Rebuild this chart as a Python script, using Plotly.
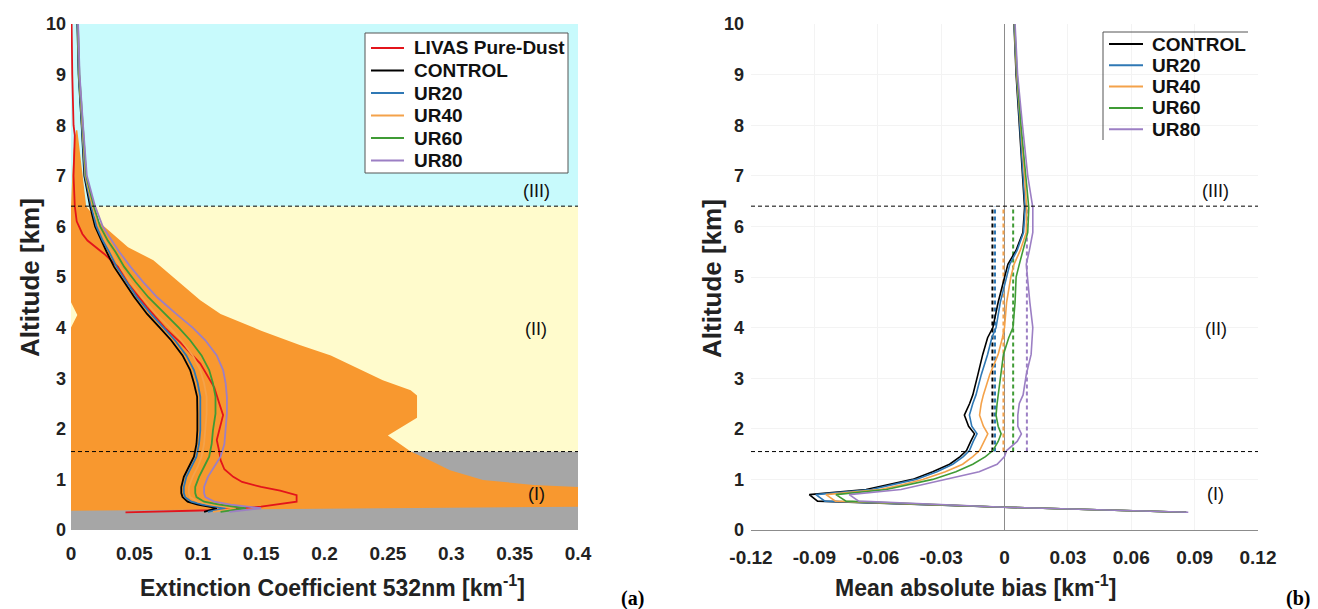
import plotly.graph_objects as go

# ---------------- data ----------------
series_names = ["CONTROL", "UR20", "UR40", "UR60", "UR80"]
series_colors = ["#000000", "#2f78b5", "#f4a24a", "#3f9b35", "#9c7fc4"]
livas_name = "LIVAS Pure-Dust"
livas_color = "#e3141b"

alt_ticks = [0, 1, 2, 3, 4, 5, 6, 7, 8, 9, 10]
ext_ticks = [0, 0.05, 0.1, 0.15, 0.2, 0.25, 0.3, 0.35, 0.4]
ext_ticklabels = ["0", "0.05", "0.1", "0.15", "0.2", "0.25", "0.3", "0.35", "0.4"]
bias_ticks = [-0.12, -0.09, -0.06, -0.03, 0, 0.03, 0.06, 0.09, 0.12]
bias_ticklabels = ["-0.12", "-0.09", "-0.06", "-0.03", "0", "0.03", "0.06", "0.09", "0.12"]

# region boundaries (km) and labels
region_bounds = [0.0, 1.55, 6.4, 10.0]
region_labels = ["(I)", "(II)", "(III)"]
region_label_alt = [0.72, 3.98, 6.7]
region_colors = ["#a6a6a6", "#fffbcc", "#c8fafc"]
envelope_color = "#f8982f"

# LIVAS pure-dust range envelope (upper/right edge, then lower/left edge)
env_up_alt = [0.46, 0.85, 0.89, 0.99, 1.18, 1.38, 1.55, 1.87, 2.22, 2.66, 2.76, 2.96, 3.45, 3.65,
              3.94, 4.27, 4.54, 4.93, 5.33, 5.59, 6.11, 6.40, 7.00, 7.50, 7.90]
env_up_x = [0.40, 0.40, 0.365, 0.325, 0.299, 0.283, 0.268, 0.250, 0.273, 0.273, 0.268, 0.246, 0.205, 0.181,
            0.150, 0.118, 0.102, 0.084, 0.065, 0.045, 0.021, 0.012, 0.009, 0.007, 0.005]
env_lo_alt = [7.90, 7.50, 7.00, 6.40, 4.50, 4.25, 4.00, 0.38]
env_lo_x = [0.004, 0.002, 0.001, 0.0, 0.0, 0.005, 0.0, 0.0]

# LIVAS pure-dust extinction profile
alt_livas = [0.35, 0.39, 0.46, 0.56, 0.69, 0.78, 0.85, 0.95, 1.05, 1.2, 1.38, 1.55, 1.78, 2.0, 2.27, 2.5,
             2.82, 3.29, 3.69, 4.0, 4.4, 4.87, 5.2, 5.46, 5.72, 5.85, 6.1, 6.4, 7.0, 7.8, 8.0, 9.0, 10.0]
ext_livas = [0.043, 0.110, 0.150, 0.178, 0.178, 0.165, 0.150, 0.135, 0.128, 0.121, 0.118, 0.117, 0.115,
             0.117, 0.120, 0.117, 0.113, 0.102, 0.087, 0.074, 0.060, 0.045, 0.037, 0.026, 0.013, 0.009,
             0.0045, 0.003, 0.002, 0.003, 0.002, 0.001, 0.0005]

# model extinction profiles
alt_model = [0.36, 0.43, 0.50, 0.56, 0.65, 0.73, 0.85, 1.05, 1.25, 1.45, 1.70, 1.97, 2.30, 2.63, 2.90,
             3.16, 3.45, 3.75, 4.00, 4.27, 4.60, 4.90, 5.20, 5.50, 5.72, 6.00, 6.40, 7.00, 8.00, 9.00, 10.0]
ext_control = [0.105, 0.115, 0.100, 0.092, 0.088, 0.087, 0.087, 0.089, 0.093, 0.097, 0.099, 0.0997, 0.0997,
               0.0995, 0.097, 0.094, 0.088, 0.079, 0.070, 0.060, 0.050, 0.042, 0.034, 0.028, 0.024, 0.019,
               0.015, 0.0105, 0.0084, 0.006, 0.005]
ext_ur20 = [0.108, 0.122, 0.104, 0.095, 0.090, 0.089, 0.089, 0.091, 0.095, 0.099, 0.101, 0.102, 0.102,
            0.102, 0.100, 0.097, 0.091, 0.082, 0.073, 0.063, 0.052, 0.044, 0.036, 0.030, 0.025, 0.020,
            0.016, 0.011, 0.0087, 0.0062, 0.0052]
ext_ur40 = [0.112, 0.130, 0.110, 0.100, 0.094, 0.093, 0.093, 0.096, 0.100, 0.103, 0.105, 0.106, 0.107,
            0.107, 0.105, 0.102, 0.096, 0.087, 0.078, 0.067, 0.056, 0.047, 0.039, 0.032, 0.027, 0.022,
            0.017, 0.0115, 0.009, 0.0064, 0.0054]
ext_ur60 = [0.118, 0.138, 0.117, 0.105, 0.099, 0.098, 0.098, 0.101, 0.105, 0.109, 0.111, 0.112, 0.114,
            0.114, 0.112, 0.109, 0.103, 0.094, 0.085, 0.074, 0.061, 0.051, 0.042, 0.035, 0.029, 0.023,
            0.018, 0.012, 0.0092, 0.0066, 0.0055]
ext_ur80 = [0.125, 0.150, 0.126, 0.113, 0.106, 0.105, 0.105, 0.108, 0.113, 0.118, 0.121, 0.122, 0.123,
            0.123, 0.122, 0.120, 0.115, 0.106, 0.096, 0.083, 0.068, 0.057, 0.047, 0.038, 0.032, 0.025,
            0.019, 0.0125, 0.0095, 0.0068, 0.0056]

# mean absolute bias profiles
alt_bias = [0.35, 0.45, 0.57, 0.70, 0.80, 0.90, 1.00, 1.15, 1.30, 1.45, 1.57, 1.75, 1.90, 2.05, 2.27, 2.50,
            2.67, 3.07, 3.47, 3.80, 4.00, 4.50, 5.00, 5.25, 5.53, 5.88, 6.37, 7.00, 8.00, 9.00, 10.0]
bias_control = [0.086, 0.0, -0.0885, -0.0924, -0.0655, -0.054, -0.0435, -0.034, -0.026, -0.021, -0.018,
                -0.016, -0.0142, -0.017, -0.019, -0.0165, -0.015, -0.0126, -0.0103, -0.008, -0.0055, -0.003,
                0.0, 0.0016, 0.0055, 0.0087, 0.0095, 0.0085, 0.007, 0.0055, 0.0045]
bias_ur20 = [0.086, 0.0, -0.085, -0.0893, -0.063, -0.052, -0.0419, -0.032, -0.0245, -0.0195, -0.0166,
             -0.0148, -0.013, -0.0155, -0.0166, -0.015, -0.0135, -0.011, -0.008, -0.006, -0.004, -0.002,
             0.001, 0.0025, 0.006, 0.009, 0.0098, 0.0088, 0.0072, 0.0057, 0.0046]
bias_ur40 = [0.086, 0.0, -0.080, -0.0845, -0.059, -0.048, -0.0387, -0.028, -0.0198, -0.015, -0.0118,
             -0.0095, -0.0079, -0.010, -0.0118, -0.011, -0.010, -0.007, -0.003, -0.001, 0.0, 0.001,
             0.003, 0.0045, 0.0075, 0.0103, 0.0105, 0.0095, 0.0075, 0.0058, 0.0047]
bias_ur60 = [0.086, 0.0, -0.075, -0.0798, -0.056, -0.045, -0.034, -0.023, -0.015, -0.009, -0.0055,
             -0.003, -0.0016, -0.003, -0.004, -0.0035, -0.003, -0.002, -0.0005, 0.002, 0.004, 0.005,
             0.0055, 0.007, 0.0087, 0.011, 0.0115, 0.010, 0.0078, 0.006, 0.0048]
bias_ur80 = [0.087, 0.0, -0.069, -0.0735, -0.049, -0.038, -0.0276, -0.012, -0.0035, 0.0, 0.001, 0.006,
             0.008, 0.0063, 0.0063, 0.007, 0.0088, 0.0103, 0.0126, 0.013, 0.0134, 0.012, 0.011, 0.0103,
             0.0118, 0.0134, 0.0134, 0.011, 0.0085, 0.0062, 0.005]
# mean bias within region (II)
bias_mean_II = [-0.0057, -0.0045, -0.0005, 0.0041, 0.0106]

ext_series = [ext_control, ext_ur20, ext_ur40, ext_ur60, ext_ur80]
bias_series = [bias_control, bias_ur20, bias_ur40, bias_ur60, bias_ur80]

# ---------------- figure ----------------
W, H = 1318, 609
TOP, BOT = 24, 530
PH = BOT - TOP


def px(xp):
    return xp / W


def py(yp):
    return (BOT - yp) / PH


FONT = "Liberation Sans"
fig = go.Figure()

# envelope polygon
fig.add_trace(go.Scatter(
    x=env_up_x + env_lo_x, y=env_up_alt + env_lo_alt, mode="lines", fill="toself",
    fillcolor=envelope_color, line=dict(width=0, color=envelope_color),
    showlegend=False, hoverinfo="skip", xaxis="x", yaxis="y"))

fig.add_trace(go.Scatter(x=ext_livas, y=alt_livas, mode="lines", name=livas_name,
                         line=dict(color=livas_color, width=1.8), xaxis="x", yaxis="y", showlegend=False))
for name, col, vals in zip(series_names, series_colors, ext_series):
    fig.add_trace(go.Scatter(x=vals, y=alt_model, mode="lines", name=name,
                             line=dict(color=col, width=1.8), xaxis="x", yaxis="y", showlegend=False))

# right panel: vertical dashed mean lines in region II
for col, m in zip(series_colors, bias_mean_II):
    fig.add_trace(go.Scatter(x=[m, m], y=[region_bounds[1], region_bounds[2]], mode="lines",
                             line=dict(color=col, width=2, dash="4px,3px"), showlegend=False,
                             hoverinfo="skip", xaxis="x2", yaxis="y2"))
for name, col, vals in zip(series_names, series_colors, bias_series):
    fig.add_trace(go.Scatter(x=vals, y=alt_bias, mode="lines", name=name,
                             line=dict(color=col, width=1.6), xaxis="x2", yaxis="y2", showlegend=False))

shapes = []
for i in range(3):
    shapes.append(dict(type="rect", xref="x domain", yref="y", x0=0, x1=1,
                       y0=region_bounds[i], y1=region_bounds[i + 1],
                       fillcolor=region_colors[i], line=dict(width=0), layer="below"))
for b in region_bounds[1:3]:
    for xr in ["x domain", "x2 domain"]:
        yr = "y" if xr == "x domain" else "y2"
        shapes.append(dict(type="line", xref=xr, yref=yr, x0=0, x1=1, y0=b, y1=b,
                           line=dict(color="black", width=1, dash="4px,3px"), layer="above"))

annotations = []
LEG_FONT = dict(family=FONT, size=19, color="#111", weight="bold")

# left legend (manual, to match entry spacing)
shapes.append(dict(type="rect", xref="paper", yref="paper", x0=px(365), x1=px(568), y0=py(33), y1=py(173),
                   fillcolor="white", line=dict(color="#555555", width=1), layer="above"))
left_entries = [(livas_name, livas_color)] + list(zip(series_names, series_colors))
for i, (name, col) in enumerate(left_entries):
    yc = 48 + 22.5 * i
    shapes.append(dict(type="line", xref="paper", yref="paper", x0=px(371), x1=px(404), y0=py(yc), y1=py(yc),
                       line=dict(color=col, width=2), layer="above"))
    annotations.append(dict(text=name, x=px(412), y=py(yc), xref="paper", yref="paper", xanchor="left",
                            yanchor="middle", showarrow=False, font=LEG_FONT))

# right legend (top and left frame edges only)
shapes.append(dict(type="line", xref="paper", yref="paper", x0=px(1103), x1=px(1248), y0=py(32), y1=py(32),
                   line=dict(color="#555555", width=1)))
shapes.append(dict(type="line", xref="paper", yref="paper", x0=px(1103), x1=px(1103), y0=py(32), y1=py(140),
                   line=dict(color="#555555", width=1)))
for i, (name, col) in enumerate(zip(series_names, series_colors)):
    yc = 44 + 21.3 * i
    shapes.append(dict(type="line", xref="paper", yref="paper", x0=px(1109), x1=px(1143), y0=py(yc), y1=py(yc),
                       line=dict(color=col, width=2), layer="above"))
    annotations.append(dict(text=name, x=px(1150), y=py(yc), xref="paper", yref="paper", xanchor="left",
                            yanchor="middle", showarrow=False, font=LEG_FONT))

for lab, a in zip(region_labels, region_label_alt):
    annotations.append(dict(text=lab, x=0.367, y=a, xref="x", yref="y", showarrow=False,
                            xanchor="center", yanchor="middle",
                            font=dict(family=FONT, size=18, color="#111")))
    annotations.append(dict(text=lab, x=0.1, y=a, xref="x2", yref="y2", showarrow=False,
                            xanchor="center", yanchor="middle",
                            font=dict(family=FONT, size=18, color="#111")))

title_font = dict(family=FONT, size=23, color="#222", weight="bold")
ytitle_font = dict(family=FONT, size=26, color="#222", weight="bold")
paper_texts = [
    ("Altitude [km]", 30, 278, -90, ytitle_font),
    ("Altitude [km]", 712, 278, -90, ytitle_font),
    ("Extinction Coefficient 532nm [km<sup>-1</sup>]", 332, 586, 0, title_font),
    ("Mean absolute bias [km<sup>-1</sup>]", 976, 586, 0, title_font),
    ("(a)", 632, 598, 0, dict(family="Liberation Serif", size=20, color="black", weight="bold")),
    ("(b)", 1298, 598, 0, dict(family="Liberation Serif", size=20, color="black", weight="bold")),
]
for txt, xp_, yp_, ang, f in paper_texts:
    annotations.append(dict(text=txt, x=px(xp_), y=py(yp_), xref="paper", yref="paper", textangle=ang,
                            xanchor="center", yanchor="middle", showarrow=False, font=f))

tickfont_x = dict(family=FONT, size=19, color="#222", weight="bold")
tickfont_y = dict(family=FONT, size=18, color="#222", weight="bold")

fig.update_layout(
    width=W, height=H, margin=dict(l=0, r=0, t=TOP, b=H - BOT, autoexpand=False),
    paper_bgcolor="white", plot_bgcolor="white",
    xaxis=dict(domain=[px(71), px(578)], range=[0, 0.4], tickvals=ext_ticks, ticktext=ext_ticklabels,
               showgrid=False, zeroline=False, showline=False, ticks="", tickfont=tickfont_x,
               ticklabelstandoff=10, anchor="y", automargin=False),
    yaxis=dict(domain=[0, 1], range=[0, 10], tickvals=alt_ticks, showgrid=False, zeroline=False,
               showline=False, ticks="", tickfont=tickfont_y, ticklabelstandoff=4, anchor="x",
               automargin=False),
    xaxis2=dict(domain=[px(751), px(1258)], range=[-0.12, 0.12], tickvals=bias_ticks,
                ticktext=bias_ticklabels, showgrid=True, gridcolor="#f3f3f3", zeroline=True,
                zerolinecolor="#8c8c8c", zerolinewidth=1, showline=True, linecolor="#8c8c8c",
                linewidth=1, ticks="", tickfont=tickfont_x, ticklabelstandoff=10, anchor="y2",
                automargin=False),
    yaxis2=dict(domain=[0, 1], range=[0, 10], tickvals=alt_ticks, showgrid=True, gridcolor="#f3f3f3",
                zeroline=False, showline=False, ticks="", tickfont=tickfont_y, ticklabelstandoff=6,
                anchor="x2", automargin=False),
    shapes=shapes, annotations=annotations, showlegend=False,
)

fig.write_html("out.html")
